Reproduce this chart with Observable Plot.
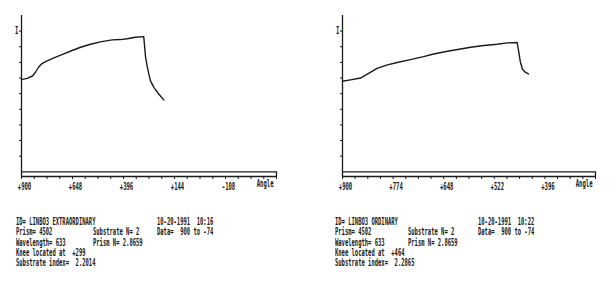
<!DOCTYPE html>
<html>
<head>
<meta charset="utf-8">
<script src="https://cdn.jsdelivr.net/npm/d3@7"></script>
<script src="https://cdn.jsdelivr.net/npm/@observablehq/plot@0.6"></script>
<style>
  html, body { margin: 0; padding: 0; background: #fff; }
  #wrap { position: relative; width: 616px; height: 292px; overflow: hidden; background: #fff; }
  .panel { position: absolute; top: 0; }
  .ln { position: absolute; font-family: "DejaVu Sans Mono", monospace; font-weight: bold; font-size: 10px;
        line-height: 10px; white-space: pre; color: #1a1a1a; transform: scaleX(0.55); transform-origin: 0 0; }
</style>
</head>
<body>
<div id="wrap"></div>
<script>
// ---- data ----
const leftAngle = [900, 872, 846, 831, 816, 801, 781, 740, 691, 650, 608, 559, 510, 452, 411, 378, 337, 296, 287, 279, 271, 263, 246, 222, 197];
const leftI     = [5.90, 5.98, 6.13, 6.37, 6.69, 6.90, 7.05, 7.29, 7.54, 7.76, 7.97, 8.16, 8.31, 8.44, 8.46, 8.51, 8.61, 8.65, 7.35, 6.75, 6.26, 5.83, 5.40, 4.98, 4.60];
const rightAngle = [900, 880, 855, 835, 814, 788, 764, 731, 698, 673, 639, 606, 581, 548, 515, 490, 465, 461, 457, 452, 445, 437];
const rightI     = [5.79, 5.88, 6.00, 6.30, 6.62, 6.84, 6.99, 7.18, 7.37, 7.54, 7.71, 7.86, 7.97, 8.08, 8.16, 8.25, 8.27, 7.65, 7.01, 6.58, 6.37, 6.26];

const leftMajorTicks  = [900, 648, 396, 144, -108];
const rightMajorTicks = [900, 774, 648, 522, 396];
const leftDomain  = [900, -360];
const rightDomain = [900, 270];
const leftMinorStep = 63;
const rightMinorStep = 31.5;
const yTicks = [1, 2, 3, 4, 5, 6, 7, 8, 9];
const yLabel = ["I"];
const xLabel = ["Angle"];

const leftCol1 = ["ID= LINBO3 EXTRAORDINARY", "Prism= 4502", "Wavelength= 633", "Knee located at  +299", "Substrate index=  2.2014"];
const leftCol2 = ["Substrate N= 2", "Prism N= 2.8659"];
const leftCol3 = ["10-20-1991  10:16", "Data=  900 to -74"];
const rightCol1 = ["ID= LINBO3 ORDINARY", "Prism= 4502", "Wavelength= 633", "Knee located at  +464", "Substrate index=  2.2865"];
const rightCol2 = ["Substrate N= 2", "Prism N= 2.8659"];
const rightCol3 = ["10-20-1991  10:22", "Data=  900 to -74"];

// ---- drawing ----
const ink = "#1a1a1a";
function panel(angle, inten, domain, majors, minorStep, marginLeft, marginRight) {
  const data = angle.map((a, i) => ({a, v: inten[i]}));
  const minors = d3.range(domain[0], domain[1] - 0.001, -minorStep);
  return Plot.plot({
    width: 300, height: 200,
    marginLeft, marginRight, marginTop: 15, marginBottom: 24,
    x: {domain, axis: null},
    y: {domain: [-0.3, 10], axis: null},
    style: {fontFamily: "DejaVu Sans Mono", fontSize: "10px", fontWeight: "bold", background: "white", color: ink},
    marks: [
      Plot.ruleX([domain[0]], {y1: -0.3, y2: 10, stroke: ink, strokeWidth: 1.3}),
      Plot.ruleY([0, -0.3], {x1: domain[0], x2: domain[1], stroke: ink, strokeWidth: 1.3}),
      Plot.ruleX([domain[1]], {y1: -0.3, y2: 0, stroke: ink, strokeWidth: 1.3}),
      Plot.axisY({ticks: yTicks, tickSize: 2, tickFormat: () => "", label: null, stroke: ink}),
      Plot.axisX({ticks: minors, tickSize: 3, tickFormat: () => "", label: null, stroke: ink}),
      Plot.axisX({ticks: majors, tickSize: 0, tickPadding: 6, dx: 3, label: null, fill: ink,
                  tickFormat: d => (d > 0 ? "+" : "") + d}),
      Plot.text(yLabel, {x: domain[0], y: 9, text: d => d, dx: -3, textAnchor: "end", fill: ink}),
      Plot.text(xLabel, {frameAnchor: "bottom-right", text: d => d, dx: -3, dy: 10, textAnchor: "end", fill: ink}),
      Plot.line(data, {x: "a", y: "v", stroke: ink, strokeWidth: 1.4})
    ]
  });
}

const wrap = document.getElementById("wrap");
function place(node, left) {
  const d = document.createElement("div");
  d.className = "panel";
  d.style.left = left + "px";
  d.appendChild(node);
  wrap.appendChild(d);
  d3.select(node).selectAll("text").each(function () {
    const L = this.getComputedTextLength();
    if (L > 0) {
      this.setAttribute("textLength", (L * 0.56).toFixed(2));
      this.setAttribute("lengthAdjust", "spacingAndGlyphs");
    }
  });
}
place(panel(leftAngle, leftI, leftDomain, leftMajorTicks, leftMinorStep, 21, 24), 0);
place(panel(rightAngle, rightI, rightDomain, rightMajorTicks, rightMinorStep, 26, 21), 316);

const lineTop = 217, pitch = 10.25;
function column(lines, left, firstLine) {
  lines.forEach((t, i) => {
    const d = document.createElement("div");
    d.className = "ln";
    d.style.left = left + "px";
    d.style.top = (lineTop + (firstLine + i) * pitch) + "px";
    d.textContent = t;
    wrap.appendChild(d);
  });
}
column(leftCol1, 16, 0);
column(leftCol2, 93, 1);
column(leftCol3, 157, 0);
column(rightCol1, 335, 0);
column(rightCol2, 408, 1);
column(rightCol3, 478, 0);
</script>
</body>
</html>
